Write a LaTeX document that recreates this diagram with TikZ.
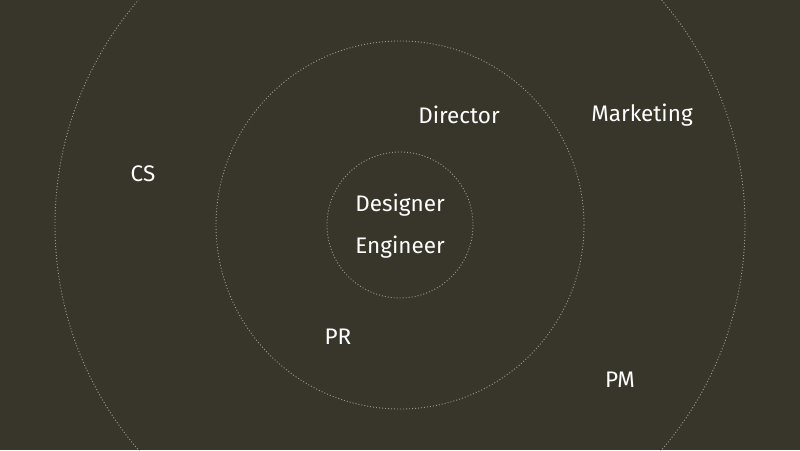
\documentclass[tikz,border=0pt]{standalone}
\usepackage{fontspec}
\setmainfont{Fira Sans}
\definecolor{bgOlive}{HTML}{38352A}
\definecolor{ringGrey}{HTML}{9A978C}
\begin{document}
\begin{tikzpicture}
[x=1pt,y=-1pt,%
  ringDotted/.style={draw=ringGrey,line width=0.9pt,dash pattern=on 1pt off 2pt},%
  nodeLabel/.style={text=white,font=\fontsize{22.5}{27}\selectfont,inner sep=0pt}]
\fill[bgOlive] (0,0) rectangle (800,450);
\useasboundingbox (0,0) rectangle (800,450);
%% rings
\coordinate (c) at (400,225);
\foreach \ringname/\r in {inner/73, middle/184, outer/345}
{
  \draw[ringDotted] (c) circle[radius=\r];
}
%% labels
\foreach \nodename/\x/\y/\txt in {dir/459/115/Director, mkt/642/115/Marketing,
  cs/143/174/CS, des/400/205/Designer, eng/400/247/Engineer,
  pr/338/337/PR, pm/620/380/PM}
{
  \node (\nodename) at (\x,\y) [nodeLabel] {\txt};
}
\end{tikzpicture}
\end{document}
